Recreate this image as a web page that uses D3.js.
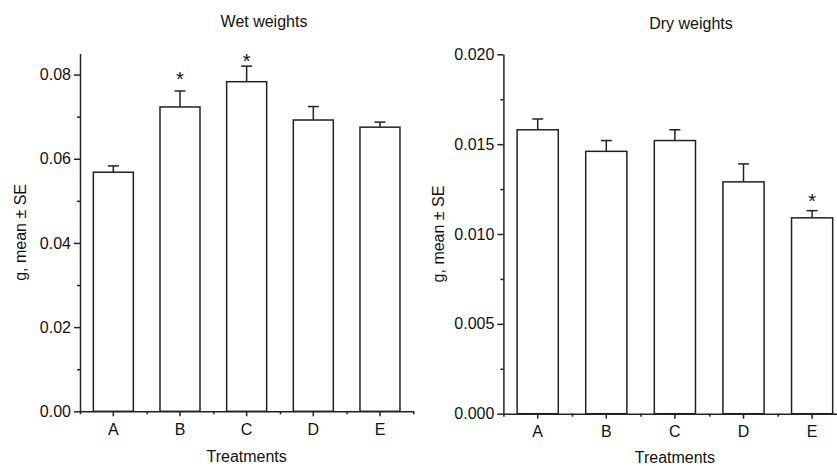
<!DOCTYPE html>
<html>
<head>
<meta charset="utf-8">
<script src="https://cdn.jsdelivr.net/npm/d3@7"></script>
<style>
  body { margin: 0; background: #fff; }
  text { font-family: "Liberation Sans", Arial, sans-serif; fill: #111; }
</style>
</head>
<body>
<svg id="chart" width="837" height="466"></svg>
<script>
const categories = ['A', 'B', 'C', 'D', 'E']

const wetMean = [0.0568, 0.0723, 0.0783, 0.0692, 0.0675]
const wetSE = [0.0015, 0.0038, 0.0037, 0.0032, 0.0012]
const wetStarCats = ['B', 'C']
const wetStarAt = [0.0801, 0.0842]
const wetTicks = [0, 0.02, 0.04, 0.06, 0.08]
const wetMinor = [0.01, 0.03, 0.05, 0.07]

const dryMean = [0.0158, 0.0146, 0.0152, 0.0129, 0.0109]
const drySE = [0.0006, 0.0006, 0.0006, 0.0010, 0.0004]
const dryStarCats = ['E']
const dryStarAt = [0.01208]
const dryTicks = [0, 0.005, 0.010, 0.015, 0.020]
const dryMinor = [0.0025, 0.0075, 0.0125, 0.0175]

const ink = '#222'
const svg = d3.select('#chart')

function panel({title, mean, se, starCats, starAt, yMax, ticks, minor, fmt, x0, x1, y0, y1, titleX, titleY, yLabelX, xLabelY}) {
    const g = svg.append('g')

    const xScale = d3.scaleBand().domain(categories).range([x0, x1]).paddingInner(0.4).paddingOuter(0.2)
    const xEdges = d3.scaleLinear().domain([0, categories.length]).range([x0, x1])
    const yScale = d3.scaleLinear().domain([0, yMax]).range([y0, y1])
    const mid = c => xScale(c) + xScale.bandwidth() / 2

    const rows = categories.map((c, i) => ({cat: c, mean: mean[i], se: se[i]}))

    // upper whiskers only, drawn before the bars
    const eb = g.append('g').attr('stroke', ink).attr('stroke-width', 1.5).attr('fill', 'none')
    eb.selectAll('line.stem')
        .data(rows)
        .enter()
        .append('line')
        .attr('class', 'stem')
        .attr('x1', d => mid(d.cat))
        .attr('x2', d => mid(d.cat))
        .attr('y1', d => yScale(d.mean))
        .attr('y2', d => yScale(d.mean + d.se))
    eb.selectAll('line.cap')
        .data(rows)
        .enter()
        .append('line')
        .attr('class', 'cap')
        .attr('x1', d => mid(d.cat) - 5.5)
        .attr('x2', d => mid(d.cat) + 5.5)
        .attr('y1', d => yScale(d.mean + d.se))
        .attr('y2', d => yScale(d.mean + d.se))

    g.append('g')
        .selectAll('rect')
        .data(rows)
        .enter()
        .append('rect')
        .attr('x', d => xScale(d.cat))
        .attr('width', xScale.bandwidth())
        .attr('y', d => yScale(d.mean))
        .attr('height', d => yScale(0) - yScale(d.mean))
        .attr('fill', '#fff')
        .attr('stroke', ink)
        .attr('stroke-width', 1.5)

    g.append('g')
        .selectAll('text')
        .data(starCats.map((c, i) => ({cat: c, at: starAt[i]})))
        .enter()
        .append('text')
        .attr('x', d => mid(d.cat))
        .attr('y', d => yScale(d.at))
        .attr('dy', '0.58em')
        .attr('text-anchor', 'middle')
        .style('font-size', '20px')
        .text('*')

    const yAxis = g.append('g')
        .attr('transform', `translate(${x0},0)`)
        .call(d3.axisLeft(yScale).tickValues(ticks).tickFormat(d3.format(fmt)).tickSize(6).tickSizeOuter(0))
    const yMinor = g.append('g')
        .attr('transform', `translate(${x0},0)`)
        .call(d3.axisLeft(yScale).tickValues(minor).tickFormat('').tickSize(3).tickSizeOuter(0))
    const xAxis = g.append('g')
        .attr('transform', `translate(0,${y0})`)
        .call(d3.axisBottom(xScale).tickSize(5).tickPadding(7).tickSizeOuter(0))
    const xMinor = g.append('g')
        .attr('transform', `translate(0,${y0})`)
        .call(d3.axisBottom(xEdges).ticks(categories.length).tickFormat('').tickSize(3).tickSizeOuter(0))

    ;[yAxis, yMinor, xAxis, xMinor].forEach(a => {
        a.selectAll('path, line').attr('stroke', ink).attr('stroke-width', 1.5)
        a.selectAll('text').style('font-size', '16px').attr('fill', '#111')
    })
    xMinor.select('.domain').remove()
    yMinor.select('.domain').remove()

    g.append('text')
        .attr('x', titleX)
        .attr('y', titleY)
        .attr('text-anchor', 'middle')
        .style('font-size', '16px')
        .text(title)

    g.append('text')
        .attr('x', (mid(categories[0]) + mid(categories[categories.length - 1])) / 2)
        .attr('y', xLabelY)
        .attr('text-anchor', 'middle')
        .style('font-size', '16px')
        .text('Treatments')

    g.append('text')
        .attr('transform', `translate(${yLabelX},${(y0 + y1) / 2}) rotate(-90)`)
        .attr('text-anchor', 'middle')
        .style('font-size', '16px')
        .text('g, mean ± SE')
}

panel({
    title: 'Wet weights', mean: wetMean, se: wetSE, starCats: wetStarCats, starAt: wetStarAt,
    yMax: 0.085, ticks: wetTicks, minor: wetMinor, fmt: '.2f',
    x0: 80, x1: 413.3, y0: 411.3, y1: 53.5,
    titleX: 264, titleY: 26.5, yLabelX: 25.5, xLabelY: 461.5
})

panel({
    title: 'Dry weights', mean: dryMean, se: drySE, starCats: dryStarCats, starAt: dryStarAt,
    yMax: 0.020, ticks: dryTicks, minor: dryMinor, fmt: '.3f',
    x0: 503.4, x1: 846.4, y0: 413.7, y1: 54.3,
    titleX: 691, titleY: 28.5, yLabelX: 443.5, xLabelY: 463
})
</script>
</body>
</html>
